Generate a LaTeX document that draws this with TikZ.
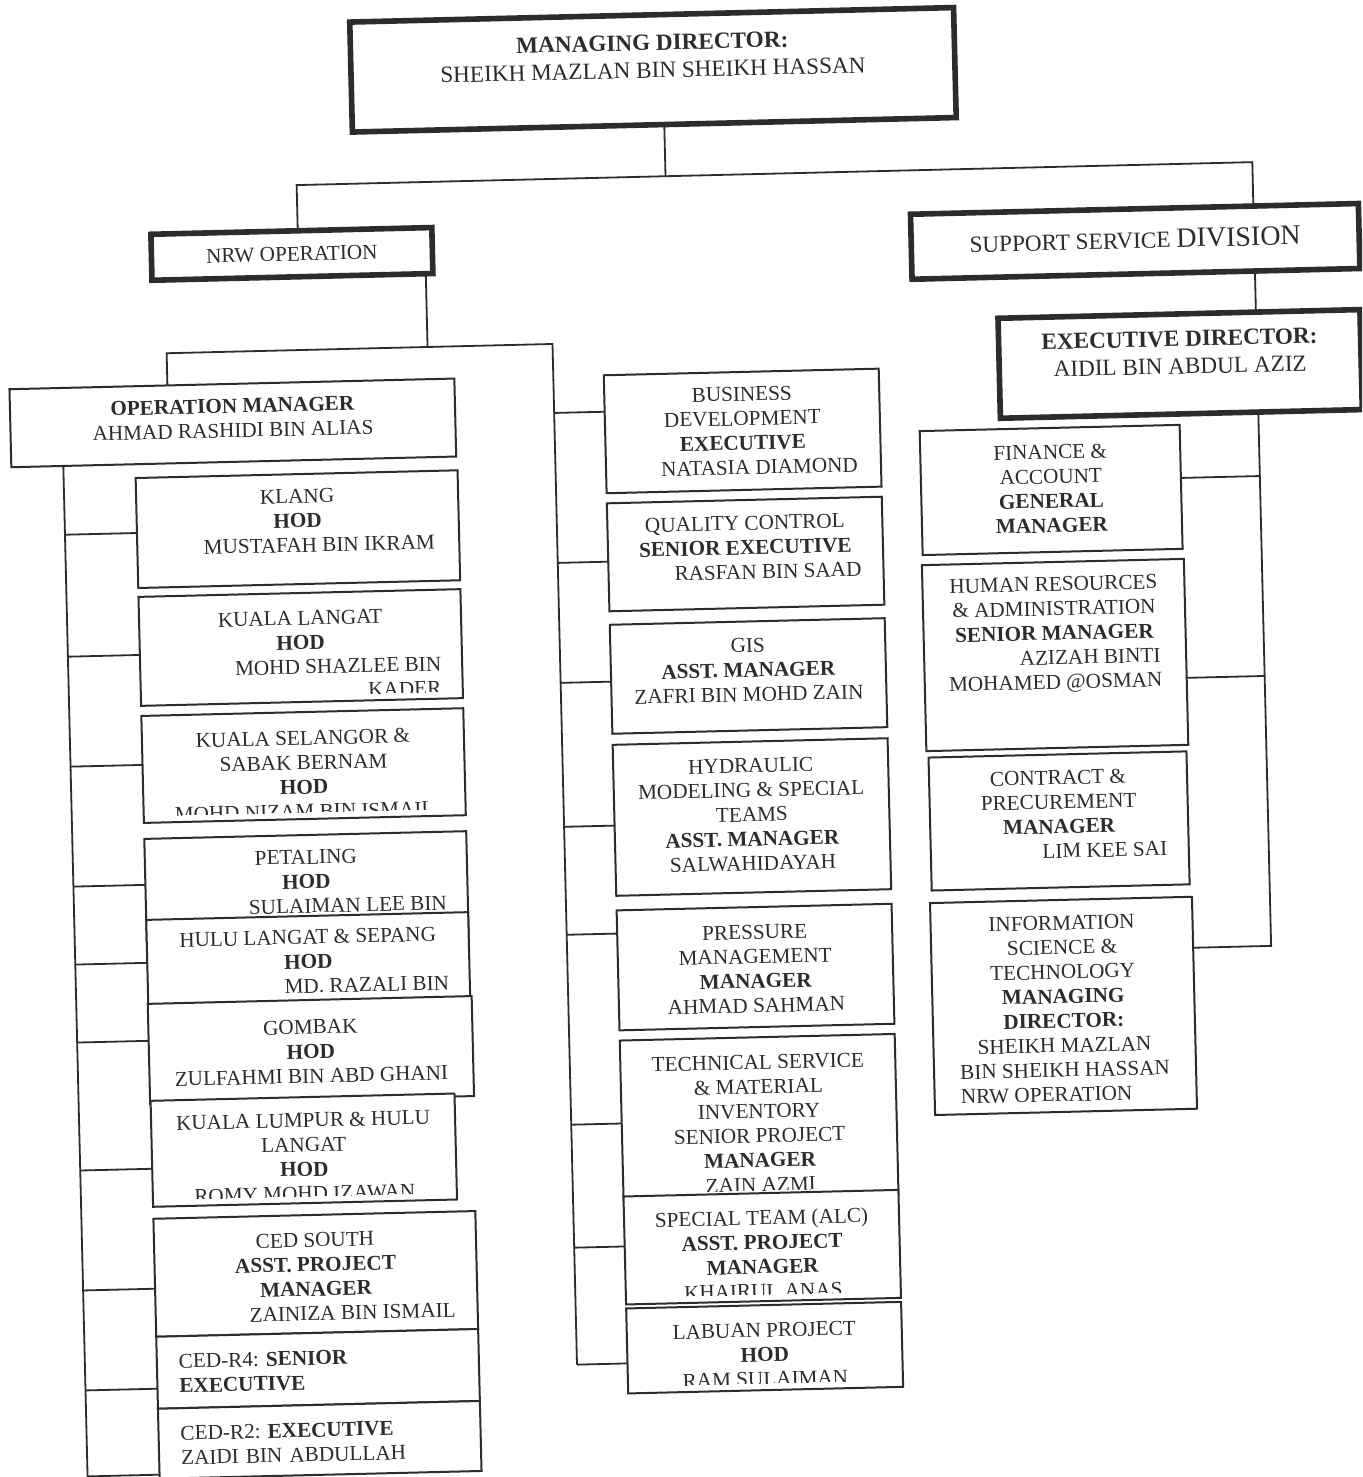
\documentclass[tikz,border=0pt]{standalone}
\usepackage{fontspec}
\setmainfont{Liberation Serif}
\usetikzlibrary{calc}
\definecolor{ink}{HTML}{2C2C2C}
\tikzset{
  obox/.style={draw=ink, fill=white, line width=1pt, rectangle, inner sep=0pt, outer sep=0pt},
  thickbox/.style={line width=2.8pt},
  otext/.style={text=ink, inner sep=0pt, outer sep=0pt, align=center, font=\fontsize{10.6}{12.25}\selectfont\frenchspacing},
  hdr/.style={font=\fontsize{11.6}{13.8}\selectfont\frenchspacing},
  lefttext/.style={align=left, text width=#1},
  conn/.style={draw=ink, line width=0.9pt},
}
% #1 name, #2 box style, #3 centre, #4 width px, #5 height px, #6 text offset px, #7 text style, #8 text
\newcommand\orgbox[8]{%
  \node[obox,#2,minimum width=#4*0.5pt,minimum height=#5*0.5pt] (#1) at #3 {};
  \begin{scope}
    \clip ($(#1.south west)+(0,-7)$) -- ($(#1.south east)+(0,-7)$) -- (#1.north east) -- (#1.north west) -- cycle;
    \node[otext,#7,anchor=north] (#1t) at ($(#1.north)+(0,#6)$) {#8};
  \end{scope}}
\begin{document}
\begin{tikzpicture}[x=0.5pt,y=-0.5pt]
\useasboundingbox (0,0) rectangle (1362,1477);
\fill[white] (0,0) rectangle (1362,1477);
\clip (0,0) rectangle (1362,1477);
\begin{scope}[rotate around={1.375:(681,738)}, transform shape]
  % ---------- top level ----------
  \orgbox{MD}{thickbox}{(669,69.3)}{604}{110}{20}{hdr}{\textbf{MANAGING DIRECTOR:}\\SHEIKH MAZLAN BIN SHEIKH HASSAN}
  \orgbox{NRW}{thickbox}{(303.6,244.7)}{281}{46}{16}{}{NRW OPERATION}
  \orgbox{SSD}{thickbox}{(1147,252.4)}{448}{65}{21}{hdr}{SUPPORT SERVICE {\fontsize{14}{14}\selectfont DIVISION}}
  \orgbox{ED}{thickbox}{(1189,376)}{362}{100}{17}{hdr}{\textbf{EXECUTIVE DIRECTOR:}\\AIDIL BIN ABDUL AZIZ}
  \orgbox{OM}{}{(240.5,412.2)}{445}{78}{15}{}{\textbf{OPERATION MANAGER}\\AHMAD RASHIDI BIN ALIAS}
  % ---------- left column ----------
  \orgbox{Kl}{}{(303,520)}{322}{110}{15}{}{KLANG\\\textbf{HOD}\\\hspace*{21pt}MUSTAFAH BIN IKRAM}
  \orgbox{KLa}{}{(303,638.4)}{322}{109}{18}{}{KUALA LANGAT\\\textbf{HOD}\\\hspace*{37pt}MOHD SHAZLEE BIN\\\hspace*{103pt}KADER}
  \orgbox{KSe}{}{(303,756.5)}{322}{107}{19}{}{KUALA SELANGOR \&\\SABAK BERNAM\\\textbf{HOD}\\MOHD NIZAM BIN ISMAIL}
  \orgbox{Pe}{}{(303,878.5)}{322}{105}{15}{}{PETALING\\\textbf{HOD}\\\hspace*{41pt}SULAIMAN LEE BIN}
  \orgbox{Hu}{}{(303,957)}{322}{100}{14}{}{HULU LANGAT \& SEPANG\\\textbf{HOD}\\\hspace*{58pt}MD. RAZALI BIN}
  \orgbox{Go}{}{(303.5,1041)}{324}{100}{20}{}{GOMBAK\\\textbf{HOD}\\ZULFAHMI BIN ABD GHANI}
  \orgbox{KLH}{}{(294,1141)}{304}{106}{16}{}{KUALA LUMPUR \& HULU\\LANGAT\\\textbf{HOD}\\ROMY MOHD IZAWAN}
  \orgbox{CS}{}{(303,1265)}{322}{118}{18}{}{CED SOUTH\\\textbf{ASST. PROJECT}\\\textbf{MANAGER}\\\hspace*{36pt}ZAINIZA BIN ISMAIL}
  \orgbox{R4}{}{(303,1360)}{322}{72}{18}{lefttext=139pt}{CED-R4: \textbf{SENIOR}\\\textbf{EXECUTIVE}}
  \orgbox{R2}{}{(303,1431)}{322}{70}{18}{lefttext=139pt}{CED-R2: \textbf{EXECUTIVE}\\ZAIDI BIN ABDULLAH}
  % ---------- middle column ----------
  \orgbox{Bu}{}{(750,432.5)}{275}{118}{15}{}{BUSINESS\\DEVELOPMENT\\\textbf{EXECUTIVE}\\\hspace*{16pt}NATASIA DIAMOND}
  \orgbox{QC}{}{(750,555.6)}{275}{108}{16}{}{QUALITY CONTROL\\\textbf{SENIOR EXECUTIVE}\\\hspace*{22pt}RASFAN BIN SAAD}
  \orgbox{GI}{}{(750,677.6)}{275}{109}{17}{}{GIS\\\textbf{ASST. MANAGER}\\ZAFRI BIN MOHD ZAIN}
  \orgbox{Hy}{}{(750,818.7)}{275}{151}{17}{}{HYDRAULIC\\MODELING \& SPECIAL\\TEAMS\\\textbf{ASST. MANAGER}\\SALWAHIDAYAH}
  \orgbox{Pr}{}{(750,968.8)}{275}{120}{18}{}{PRESSURE\\MANAGEMENT\\\textbf{MANAGER}\\AHMAD SAHMAN}
  \orgbox{Te}{}{(750,1119)}{275}{160}{18}{}{TECHNICAL SERVICE\\\& MATERIAL\\INVENTORY\\SENIOR PROJECT\\\textbf{MANAGER}\\ZAIN AZMI}
  \orgbox{Sp}{}{(750,1249)}{275}{108}{17}{}{SPECIAL TEAM (ALC)\\\textbf{ASST. PROJECT}\\\textbf{MANAGER}\\KHAIRUL ANAS}
  \orgbox{La}{}{(750,1349.5)}{275}{85}{18}{}{LABUAN PROJECT\\\textbf{HOD}\\RAM SULAIMAN}
  % ---------- right column ----------
  \orgbox{Fi}{}{(1057,498.9)}{260}{124}{17}{}{FINANCE \&\\ACCOUNT\\\textbf{GENERAL}\\\textbf{MANAGER}}
  \orgbox{HR}{}{(1057,664)}{262}{186}{15}{}{HUMAN RESOURCES\\\& ADMINISTRATION\\\textbf{SENIOR MANAGER}\\\hspace*{35pt}AZIZAH BINTI\\MOHAMED @OSMAN}
  \orgbox{Co}{}{(1057,830)}{258}{133}{16}{}{CONTRACT \&\\PRECUREMENT\\\textbf{MANAGER}\\\hspace*{45pt}LIM KEE SAI}
  \orgbox{In}{}{(1057,1015)}{262}{212}{16}{}{INFORMATION\\SCIENCE \&\\TECHNOLOGY\\\textbf{MANAGING}\\\textbf{DIRECTOR:}\\SHEIKH MAZLAN\\BIN SHEIKH HASSAN\\\hspace*{-19pt}NRW OPERATION}
  % ---------- connectors ----------
  \coordinate (jm) at (679,176);
  \coordinate (jl) at (310,176);
  \coordinate (jr) at (1266,176);
  \draw[conn] (MD.south -| jm) -- (jm);
  \draw[conn] (NRW.north -| jl) -- (jl) -- (jr) -- (SSD.north -| jr);
  \draw[conn] (SSD.south -| jr) -- (ED.north -| jr);
  \coordinate (nb) at (437,341);
  \coordinate (nl) at (176,341);
  \coordinate (nr) at (562,341);
  \coordinate (ne) at (562,1362);
  \draw[conn] (NRW.south -| nb) -- (nb);
  \draw[conn] (OM.north -| nl) -- (nl) -- (nr) -- (ne);
  \coordinate (le) at (70,1520);
  \draw[conn] (OM.south -| le) -- (le);
  \foreach \n/\v in {Kl/520, KLa/642, KSe/752, Pe/872, Hu/950, Go/1028, KLH/1156, CS/1276, R4/1376, R2/1462}{
    \coordinate (b\n) at (70,\v);
    \draw[conn] (b\n) -- (b\n -| \n.west);
  }
  \foreach \n/\v in {Bu/410, QC/560, GI/680, Hy/824, Pr/932, Te/1122, Sp/1245, La/1362}{
    \coordinate (m\n) at (562,\v);
    \draw[conn] (m\n) -- (m\n -| \n.west);
  }
  \coordinate (rs) at (1266,960);
  \draw[conn] (ED.south -| rs) -- (rs) -- (rs -| In.east);
  \foreach \n/\v in {Fi/490, HR/690}{
    \coordinate (r\n) at (1266,\v);
    \draw[conn] (r\n) -- (r\n -| \n.east);
  }
\end{scope}
\end{tikzpicture}
\end{document}
